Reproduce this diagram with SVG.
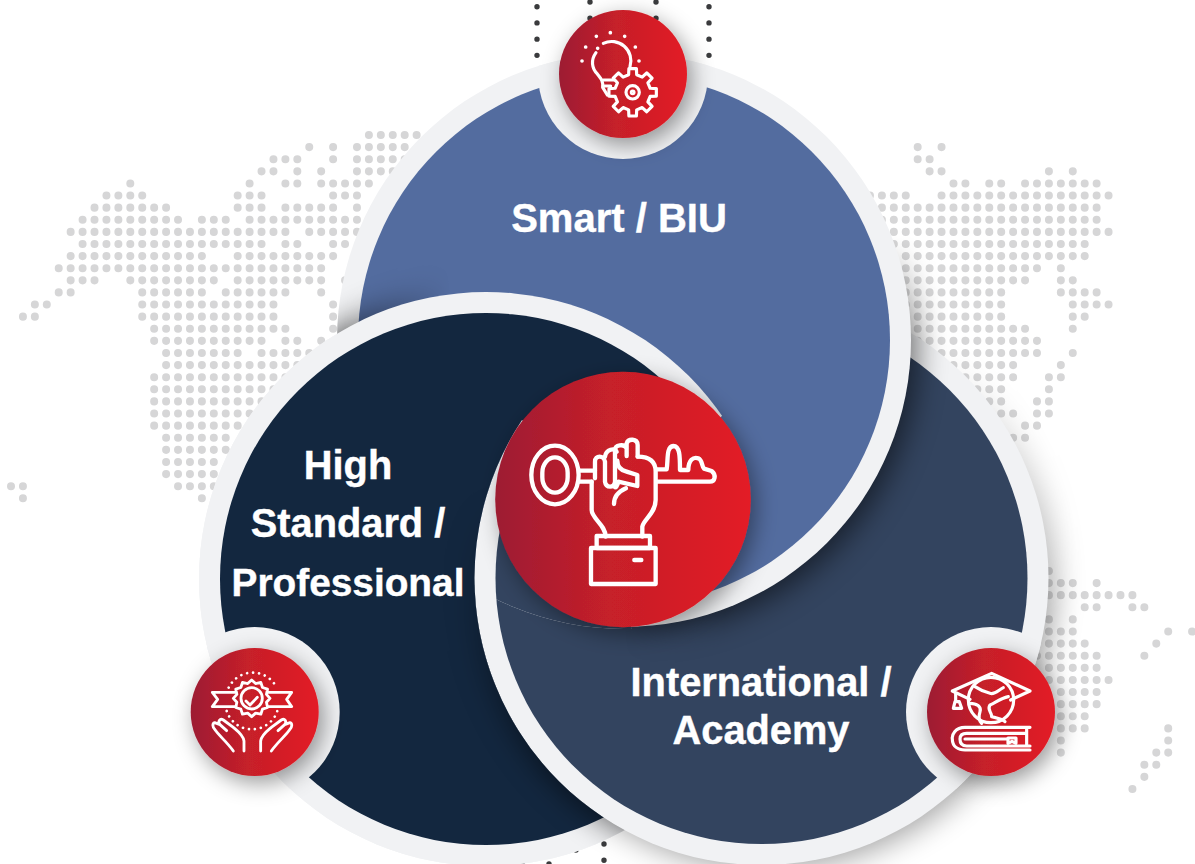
<svg xmlns="http://www.w3.org/2000/svg" width="1195" height="864" viewBox="0 0 1195 864">
<style>
.ring{fill:#F1F2F4}
.lab{font-family:"Liberation Sans",Arial,sans-serif;font-weight:700;fill:#fff;text-anchor:middle;stroke:#fff;stroke-width:.4}
.ic{fill:none;stroke:#fff;stroke-linecap:round;stroke-linejoin:round}
.red{fill:url(#rg)}
</style>
<defs>
<linearGradient id="rg" x1="0" x2="1" y1="0" y2="0"><stop offset="0" stop-color="#9D1C33"/><stop offset=".45" stop-color="#C62029"/><stop offset="1" stop-color="#E31B25"/></linearGradient>
<filter id="bl" x="-30%" y="-30%" width="160%" height="160%"><feGaussianBlur stdDeviation="15"/></filter>
<filter id="ds" x="-40%" y="-40%" width="180%" height="180%"><feDropShadow dx="5" dy="7" stdDeviation="11" flood-color="#000" flood-opacity=".4"/></filter>
<clipPath id="cB"><circle cx="624" cy="340" r="287"/></clipPath>
<clipPath id="cB2"><circle cx="624" cy="340" r="289"/></clipPath>
<clipPath id="cL"><circle cx="486" cy="579" r="287"/></clipPath>
<clipPath id="cR"><circle cx="761.5" cy="578" r="287"/></clipPath>
<clipPath id="outR"><path clip-rule="evenodd" d="M0 0H1195V864H0ZM474.500 578A287 287 0 0 0 1048.500 578A287 287 0 0 0 474.500 578Z"/></clipPath>
<clipPath id="leftWins"><path clip-rule="evenodd" d="M0 0H1195V864H0ZM474.500 578A287 287 0 0 0 1048.500 578A287 287 0 0 0 474.500 578Z"/><polygon points="622,498 522,420 150,420 150,100 1000,188"/></clipPath>
<clipPath id="rightWins"><polygon points="622,498 522,420 400,420 400,640 632,640"/></clipPath>
<linearGradient id="fade" gradientUnits="userSpaceOnUse" x1="500" y1="480" x2="590" y2="760"><stop offset="0" stop-color="#000"/><stop offset="1" stop-color="#fff"/></linearGradient>
<mask id="mR" maskUnits="userSpaceOnUse" x="0" y="0" width="1195" height="864"><rect width="1195" height="864" fill="url(#fade)"/></mask>
<linearGradient id="fadeB" gradientUnits="userSpaceOnUse" x1="0" y1="235" x2="0" y2="340"><stop offset="0" stop-color="#000"/><stop offset="1" stop-color="#fff"/></linearGradient>
<mask id="mB" maskUnits="userSpaceOnUse" x="0" y="0" width="1195" height="864"><rect width="1195" height="864" fill="url(#fadeB)"/></mask>
<linearGradient id="fadeX" gradientUnits="userSpaceOnUse" x1="625" y1="0" x2="725" y2="0"><stop offset="0" stop-color="#000"/><stop offset="1" stop-color="#fff"/></linearGradient>
<mask id="mX" maskUnits="userSpaceOnUse" x="0" y="0" width="1195" height="864"><rect width="1195" height="864" fill="url(#fadeX)"/></mask>
<linearGradient id="fadeL" gradientUnits="userSpaceOnUse" x1="345" y1="0" x2="450" y2="0"><stop offset="0" stop-color="#fff"/><stop offset="1" stop-color="#000"/></linearGradient>
<mask id="mL" maskUnits="userSpaceOnUse" x="0" y="0" width="1195" height="864"><rect width="1195" height="864" fill="url(#fadeL)"/></mask>
<g id="leftDisc"><circle class="ring" cx="486" cy="579" r="287"/><circle cx="486" cy="579" r="266" fill="#13273F"/></g>
<g id="rightDisc"><circle class="ring" cx="761.5" cy="578" r="287"/><circle cx="761.5" cy="578" r="266" fill="#33445F"/></g>
</defs>

<g id="map">
<g transform="translate(11 135) scale(11.93 12.11)" fill="none" stroke="#D6D6D7" stroke-width=".67" stroke-linecap="round" stroke-dasharray=".001 .999">
<path d="M30 0H34.01M25 1h.01M27 1h.01M29 1H33.01M22 2H24.01M27 2h.01M29 2H33.01M21 3H22.01M24 3h.01M26 3h.01M29 3H32.01M10 4h.01M20 4h.01M23 4H24.01M26 4H30.01M8 5H11.01M19 5H21.01M27 5H29.01M7 6H13.01M19 6H21.01M23 6H27.01M29 6h.01M6 7H14.01M16 7H18.01M20 7H29.01M5 8H23.01M25 8H29.01M6 9H21.01M23 9H24.01M27 9H28.01M5 10H16.01M19 10H27.01M4 11H26.01M5 12H7.01M10 12H17.01M19 12H26.01M28 12h.01M4 13H5.01M11 13H16.01M18 13H23.01M26 13h.01M2 14H3.01M11 14H22.01M27 14h.01M1 15H2.01M11 15H22.01M27 15h.01M12 16H23.01M27 16h.01M12 17H21.01M23 17H24.01M26 17h.01M13 18H19.01M21 18H25.01M13 19H24.01M12 20H23.01M12 21H22.01M12 22H21.01M12 23H20.01M12 24H19.01M13 25H18.01M13 26H18.01M13 27H17.01M13 28H17.01M0 29H1.01M14 29H17.01M1 30h.01M16 30h.01"/>
<path d="M76 1h.01M78 1h.01M76 2H77.01M77 3H78.01M87 3h.01M89 3h.01M79 4H80.01M82 4H83.01M85 4H91.01M72 5H75.01M78 5H92.01M72 6H91.01M73 7H91.01M74 8H92.01M74 9H90.01M75 10H90.01M75 11H86.01M88 11h.01M75 12H85.01M88 12H89.01M75 13H83.01M88 13H91.01M75 14H83.01M89 14H92.01M76 15H83.01M89 15H90.01M76 16H85.01M89 16h.01M76 17H86.01M78 18H86.01M89 18h.01M79 19H84.01M88 19h.01M80 20H84.01M87 20H88.01M81 21H83.01M87 21h.01M82 22H83.01M86 22H87.01M83 23H84.01M86 23H87.01M85 24H86.01M84 25H85.01"/>
<path d="M87 36h.01M87 37H89.01M91 37h.01M87 38H94.01M90 39H91.01M94 39H95.01M87 40h.01M89 40h.01M87 41H89.01M97 41h.01M99 41h.01M87 42H90.01M96 42h.01M86 43H91.01M95 43h.01M87 44H91.01M86 45H92.01M88 46H91.01M88 47H91.01M88 48H90.01M88 49H90.01M97 49h.01M88 50h.01M97 50h.01M88 51h.01M96 51H97.01M95 52H96.01M95 53h.01M94 54h.01"/>
</g>
<g fill="none" stroke="#3A3B3D" stroke-width="5.4" stroke-linecap="round" stroke-dasharray=".01 16.2">
<path d="M537 6.7V56M590 2V19M656 2V19M709 6.7V56M522 864h.01M549 864h.01M576 850V866M604 844V861"/>
</g>
</g>

<g id="disc-high-standard-base"><use href="#leftDisc"/></g>

<g id="node-international">
<g mask="url(#mR)"><circle cx="767.5" cy="582" r="287" fill="#000" opacity=".36" filter="url(#bl)"/></g>
<use href="#rightDisc"/>
<circle class="ring" cx="991" cy="712" r="85" clip-path="url(#cR)"/>
<circle class="red" cx="991" cy="712" r="64" filter="url(#ds)"/>
<g class="ic" stroke-width="9.5" transform="translate(920 640) scale(.3333)">
<path d="M150 178L97 153L215 100L330 153L272 180"/>
<path d="M107 160V185M100 205L105 185H118L125 205Z"/>
<circle cx="213" cy="180" r="68"/>
<path d="M165 140C180 150 190 155 210 160C225 165 235 150 250 143M265 170C240 175 225 190 210 195C200 210 215 215 215 230C235 235 250 240 255 245M150 190C170 190 185 200 180 215C175 230 175 240 185 250"/>
<path d="M330 262H135C105 262 95 285 97 297C97 320 115 330 135 330H330M320 262V318M330 318H140C125 318 120 308 120 297C120 288 125 280 140 280H320M135 297H262"/>
<path d="M264 294H288V310L276 304L264 310Z"/>
</g>
<text class="lab" font-size="39.800" x="761" y="696">International /</text>
<text class="lab" font-size="39.800" x="761" y="744">Academy</text>
</g>

<g id="node-smart">
<g mask="url(#mX)"><g mask="url(#mB)"><circle cx="630" cy="346" r="287" fill="#000" opacity=".55" filter="url(#bl)"/></g></g>
<circle class="ring" cx="624" cy="340" r="287"/>
<circle cx="624" cy="340" r="266" fill="#536C9F"/>
<circle class="ring" cx="623" cy="74" r="85" clip-path="url(#cB)"/>
<circle class="red" cx="623" cy="74" r="64" filter="url(#ds)"/>
<g class="ic" stroke-width="9.500" transform="translate(520 0) scale(.3333)">
<path d="M250 130A58 58 0 0 1 330 200M228 158C212 180 215 205 232 222C245 238 250 245 248 262L262 285M250 240H282M255 258H272"/>
<path d="M271 98h.1M229 109h.1M314 109h.1M197 141h.1M346 141h.1M186 183h.1M357 183h.1M233 145h.1" stroke-width="11"/>
<g transform="translate(338 277)">
<path d="M-12.1 -52.6L-11.3 -71.1H11.3L12.1 -52.6L28.6 -45.7L42.3 -58.3L58.3 -42.3L45.7 -28.6L52.6 -12.1L71.1 -11.3V11.3L52.6 12.1L45.7 28.6L58.3 42.3L42.3 58.3L28.6 45.7L12.1 52.6L11.3 71.1H-11.3L-12.1 52.6L-28.6 45.7L-42.3 58.3L-58.3 42.3L-45.7 28.6L-52.6 12.1L-71.1 11.3V-11.3L-52.6 -12.1L-45.7 -28.6L-58.3 -42.3L-42.3 -58.3L-28.6 -45.7Z"/>
<circle r="20"/><circle r="4"/>
</g>
</g>
<text class="lab" font-size="40" x="619" y="232">Smart / BIU</text>
</g>

<g id="disc-international-front" clip-path="url(#rightWins)"><g clip-path="url(#cB2)"><use href="#rightDisc"/></g></g>

<g id="node-high-standard">
<g mask="url(#mL)"><g clip-path="url(#cB)"><circle cx="486" cy="579" r="290" fill="#000" opacity=".6" filter="url(#bl)"/></g></g>
<g clip-path="url(#leftWins)"><use href="#leftDisc"/></g>
<g clip-path="url(#cL)"><g clip-path="url(#outR)"><g mask="url(#mR)"><circle cx="761.5" cy="578" r="290" fill="#000" opacity=".55" filter="url(#bl)"/></g></g></g>
<circle class="ring" cx="254.700" cy="712" r="85" clip-path="url(#cL)"/>
<circle class="red" cx="254.700" cy="712" r="64" filter="url(#ds)"/>
<g class="ic" stroke-width="8.500" transform="translate(180 640) scale(.3333)">
<path d="M146 143A80 80 0 0 1 290 143M140 213A80 80 0 0 0 292 213" stroke-width="8" stroke-dasharray=".1 18"/>
<path transform="translate(215 175)" d="M55 0L44.400 11.900L47.600 27.500L32.500 32.500L27.500 47.600L11.900 44.400L0 55L-11.900 44.400L-27.500 47.600L-32.500 32.500L-47.600 27.500L-44.400 11.900L-55 0L-44.400 -11.900L-47.600 -27.500L-32.500 -32.500L-27.500 -47.600L-11.900 -44.400L0 -55L11.900 -44.400L27.500 -47.600L32.500 -32.500L47.600 -27.500L44.400 -11.900Z"/>
<circle cx="215" cy="175" r="32"/>
<path d="M198 183L210 195L232 172"/>
<path d="M165 157H97L113 178L97 200H168M265 157H335L320 178L335 200H262"/>
<path d="M192 333V303C190 285 172 272 160 262L130 240C120 234 112 244 120 254L140 272M120 254L104 248C96 250 98 262 104 268C115 285 140 305 160 333"/>
<path d="M242 333V303C244 285 262 272 274 262L304 240C314 234 322 244 314 254L294 272M314 254L330 248C338 250 336 262 330 268C319 285 294 305 274 333"/>
</g>
<text class="lab" font-size="39.800" x="348" y="479">High</text>
<text class="lab" font-size="39.800" x="348" y="537">Standard /</text>
<text class="lab" font-size="38.800" x="348" y="596">Professional</text>
</g>

<g id="node-center">
<circle class="red" cx="623" cy="499.500" r="127.800" filter="url(#ds)"/>
<g class="ic" stroke-width="13" transform="translate(480 360) scale(.3333)">
<ellipse cx="225" cy="345" rx="71" ry="88"/>
<rect x="187" y="292" width="76" height="106" rx="38" ry="46"/>
<path d="M298 332H345M298 365H335"/>
<path d="M530 328H560C565 300 558 260 580 258C600 258 600 290 600 330H625C625 300 640 290 655 295C668 300 665 320 672 326L695 333C710 345 705 365 690 365H530"/>
<path d="M345 355V305C345 285 372 285 375 305V365C378 385 403 385 405 365V270C405 255 432 250 440 265V288M440 265V250C445 235 472 235 473 255V290"/>
<path d="M375 290C378 268 405 262 410 275"/>
<path d="M473 290C510 290 527 305 527 335V420C527 460 490 480 487 500V530M335 365V450C335 475 377 495 377 530"/>
<path d="M412 302C412 318 420 330 440 335L472 345V378L415 365C412 378 410 382 405 382"/>
<path d="M402 432C402 410 415 395 438 385"/>
<rect x="350" y="528" width="160" height="36"/>
<rect x="333" y="564" width="194" height="108"/>
<path d="M463 600H484"/>
</g>
</g>
</svg>
